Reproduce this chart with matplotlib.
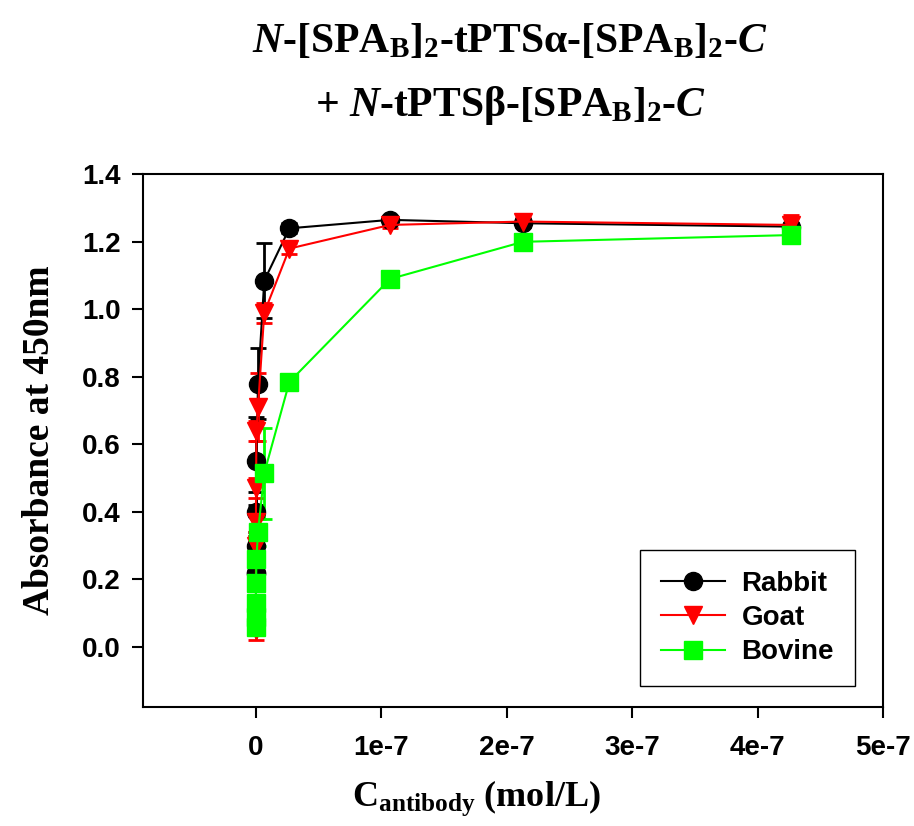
import matplotlib
matplotlib.use("Agg")
import matplotlib.pyplot as plt
from matplotlib.lines import Line2D
import numpy as np

plt.rcParams['mathtext.fontset'] = 'custom'
plt.rcParams['mathtext.rm'] = 'Liberation Serif:bold'
plt.rcParams['mathtext.it'] = 'Liberation Serif:italic:bold'
plt.rcParams['mathtext.bf'] = 'Liberation Serif:bold'

# antibody concentration (mol/L), dilution series
conc = [4.27e-7, 2.13e-7, 1.07e-7, 2.67e-8, 6.67e-9, 1.67e-9, 4.17e-10, 1.04e-10, 2.6e-11, 6.5e-12, 1.6e-12]

rabbit = [1.245, 1.255, 1.265, 1.24, 1.085, 0.78, 0.55, 0.40, 0.30, 0.22, 0.22]
rabbit_err = [0.01, 0.01, 0.01, 0.015, 0.11, 0.105, 0.13, 0.06, 0.03, 0.02, 0.02]

goat = [1.25, 1.26, 1.25, 1.18, 0.99, 0.71, 0.64, 0.47, 0.37, 0.30, 0.05]
goat_err = [0.03, 0.01, 0.01, 0.015, 0.03, 0.10, 0.03, 0.03, 0.03, 0.03, 0.03]

bovine = [1.22, 1.20, 1.09, 0.785, 0.515, 0.34, 0.26, 0.19, 0.13, 0.09, 0.06]
bovine_err = [0.01, 0.01, 0.01, 0.01, 0.135, 0.04, 0.02, 0.02, 0.01, 0.01, 0.01]

series = [("Rabbit", rabbit, rabbit_err, "black", "o"),
          ("Goat", goat, goat_err, "#ff0000", "v"),
          ("Bovine", bovine, bovine_err, "#00ff00", "s")]

fig = plt.figure(figsize=(9.14, 8.26), dpi=100)
ax = fig.add_axes([0.1565, 0.144, 0.8095, 0.645])

handles = []
for name, vals, err, col, mk in series:
    ax.errorbar(conc, vals, yerr=err, color=col, marker=mk, markersize=13,
                linewidth=1.5, elinewidth=2, capsize=6, capthick=2)
    handles.append(Line2D([], [], color=col, marker=mk, markersize=13,
                          linewidth=1.5, label=name))

ax.set_xlim(-0.9e-7, 5e-7)
ax.set_ylim(-0.178, 1.4)
ax.set_xticks([0, 1e-7, 2e-7, 3e-7, 4e-7, 5e-7])
ax.set_xticklabels(["0", "1e-7", "2e-7", "3e-7", "4e-7", "5e-7"])
ax.set_yticks(np.arange(0, 1.41, 0.2))
ax.set_yticklabels(["%.1f" % v for v in np.arange(0, 1.41, 0.2)])
for lab in ax.get_xticklabels() + ax.get_yticklabels():
    lab.set_fontfamily("Liberation Sans")
    lab.set_fontweight("bold")
    lab.set_fontsize(20)
ax.tick_params(direction="out", length=8, width=1.5, pad=8)
ax.tick_params(axis="x", pad=12)
for s in ax.spines.values():
    s.set_linewidth(1.5)

ax.set_ylabel("Absorbance at 450nm", fontfamily="Liberation Serif",
              fontweight="bold", fontsize=27, labelpad=18)
ax.set_xlabel(r"C$_{\mathrm{antibody}}$ (mol/L)", fontfamily="Liberation Serif",
              fontweight="bold", fontsize=26, labelpad=16)
ax.xaxis.set_label_coords(0.45, -0.135)

leg = ax.legend(handles=handles, loc="lower right", bbox_to_anchor=(0.962, 0.039),
                borderaxespad=0,
                prop={"family": "Liberation Sans", "weight": "bold", "size": 20},
                handlelength=2.3, handletextpad=0.6, fancybox=False,
                edgecolor="black", framealpha=1, borderpad=0.75, labelspacing=0.3)
leg.get_frame().set_linewidth(1.0)

tfont = dict(fontfamily="Liberation Serif", fontweight="bold", fontsize=30,
             ha="center", va="center")
fig.text(0.558, 0.950,
         r"$\mathit{N}$-[SPA$_\mathrm{B}$]$_\mathrm{2}$-tPTSα-[SPA$_\mathrm{B}$]$_\mathrm{2}$-$\mathit{C}$",
         **tfont)
fig.text(0.558, 0.872,
         r"+ $\mathit{N}$-tPTSβ-[SPA$_\mathrm{B}$]$_\mathrm{2}$-$\mathit{C}$", **tfont)

fig.savefig("out.png", dpi=100)
